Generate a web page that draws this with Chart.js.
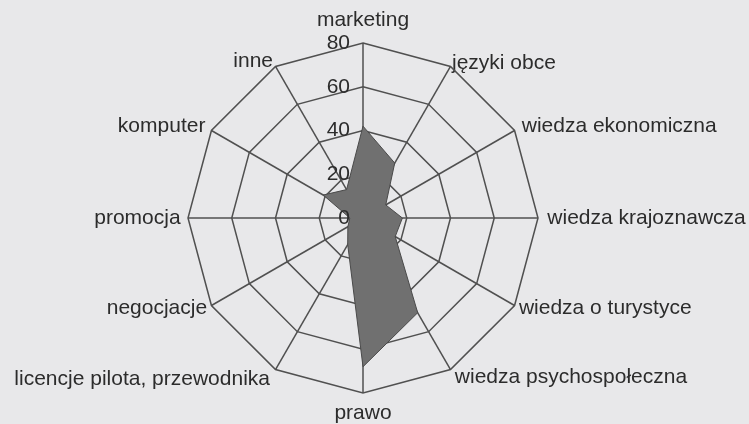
<!DOCTYPE html>
<html><head><meta charset="utf-8">
<script src="https://cdn.jsdelivr.net/npm/chart.js@4.4.1/dist/chart.umd.min.js"></script>
<style>html,body{margin:0;padding:0;background:#e8e8ea;overflow:hidden}#wrap{position:relative;width:749px;height:424px}</style>
</head><body><div id="wrap"><canvas id="c" width="749" height="424"></canvas></div>
<script>
// ---- data ----
const categories = ['marketing', 'języki obce', 'wiedza ekonomiczna', 'wiedza krajoznawcza', 'wiedza o turystyce', 'wiedza psychospołeczna', 'prawo', 'licencje pilota, przewodnika', 'negocjacje', 'promocja', 'komputer', 'inne'];
const values = [42, 29, 12, 18, 17, 50, 68, 14, 8, 6, 21, 15];
const tickLabels = ['0', '20', '40', '60', '80'];

// ---- style ----
const FONT = "'Liberation Sans', Arial, sans-serif";
const TEXT = '#2c2c2c';
const GRID = '#505050';
const labelPadding = [22.5, 3, 8.3, 9.3, 5, 8.6, 20, 11, 5, 7.4, 7, 5];

// keep the radial scale at the chart-area geometry (no auto shrink for labels)
const RS = Chart.RadialLinearScale || Chart.registry.getScale('radialLinear');
RS.prototype.setCenterPoint = function () {};

const bgPlugin = {
  id: 'bg',
  beforeDraw(chart) {
    const c = chart.ctx;
    c.save(); c.fillStyle = '#e8e8ea'; c.fillRect(0, 0, chart.width, chart.height); c.restore();
  }
};
const tickPlugin = {
  id: 'tickLabels',
  afterDatasetsDraw(chart) {
    const s = chart.scales.r, c = chart.ctx;
    c.save();
    c.font = '21px ' + FONT;
    c.fillStyle = TEXT;
    c.textAlign = 'right';
    c.textBaseline = 'middle';
    tickLabels.forEach(t => {
      const y = s.yCenter - s.getDistanceFromCenterForValue(Number(t));
      c.fillText(t, s.xCenter - 13, y);
    });
    c.restore();
  }
};

new Chart(document.getElementById('c'), {
  type: 'radar',
  data: {
    labels: categories,
    datasets: [{
      data: values,
      fill: true,
      backgroundColor: '#707070',
      borderColor: '#4a4a4a',
      borderWidth: 1,
      pointRadius: 0,
      pointHoverRadius: 0
    }]
  },
  options: {
    responsive: false,
    animation: false,
    devicePixelRatio: 1,
    layout: { padding: { left: 187, right: 210, top: 43, bottom: 31 } },
    plugins: { legend: { display: false }, tooltip: { enabled: false } },
    scales: {
      r: {
        min: Number(tickLabels[0]),
        max: Number(tickLabels[tickLabels.length - 1]),
        ticks: { display: false, stepSize: 20 },
        grid: { circular: false, color: GRID, lineWidth: 1.5 },
        angleLines: { display: true, color: GRID, lineWidth: 1.5 },
        pointLabels: {
          display: true,
          color: TEXT,
          font: { family: FONT, size: 21, lineHeight: '1px' },
          padding: ctx => labelPadding[ctx.index]
        }
      }
    }
  },
  plugins: [bgPlugin, tickPlugin]
});
</script>
</body></html>
